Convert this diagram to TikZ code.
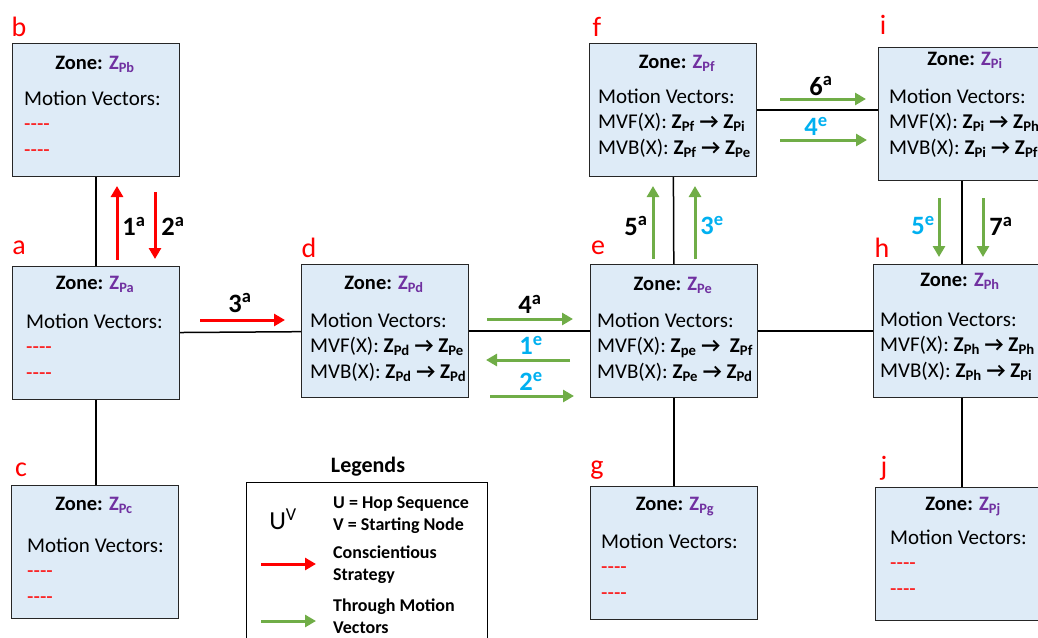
\documentclass[tikz,border=0pt]{standalone}
\usepackage{fontspec}
\setmainfont{Carlito}
\usetikzlibrary{arrows.meta}

\definecolor{boxblue}{HTML}{DEEBF7}
\definecolor{zpurple}{HTML}{7030A0}
\definecolor{mvgreen}{HTML}{70AD47}
\definecolor{hopcyan}{HTML}{00B0F0}

\newcommand{\zt}[1]{\textbf{Zone: \textcolor{zpurple}{Z\textsubscript{#1}}}}
\newcommand{\mvl}[3]{#1(X): \textbf{Z\textsubscript{#2} → Z\textsubscript{#3}}}
\newcommand{\dashes}{\textcolor{red}{-\kern0pt-\kern0pt-\kern0pt-}}
\newcommand{\mvlines}[1]{\begin{tabular}[t]{@{}l@{}}Motion Vectors:\\#1\end{tabular}}
\newcommand{\twolines}[2]{\begin{tabular}[t]{@{}l@{}}#1\\#2\end{tabular}}

\begin{document}
\begin{tikzpicture}[x=1pt, y=-1pt,
	zone/.style={draw=black!85, line width=1.2pt, fill=boxblue, minimum width=167pt, minimum height=133pt, anchor=north west, inner sep=0pt},
	ztitle/.style={anchor=base, inner sep=0pt, font=\fontsize{20.5}{24}\selectfont},
	mvtext/.style={anchor=base west, inner sep=0pt, font=\fontsize{21}{25.5}\selectfont},
	letter/.style={text=red, inner sep=0pt, font=\fontsize{28}{32}\selectfont},
	hop/.style={inner sep=0pt, font=\fontsize{26.5}{30}\selectfont\bfseries},
	link/.style={line width=1.5pt},
	redhop/.style={line width=3pt, red, -{Triangle[length=11pt, width=12pt]}},
	greenhop/.style={line width=3pt, mvgreen, -{Triangle[length=11pt, width=12pt]}},
	legtext/.style={anchor=base west, inner sep=0pt, font=\fontsize{18}{22}\selectfont\bfseries}]
	\useasboundingbox (0,0) rectangle (1038,637);
	\clip (0,0) rectangle (1038,637);
	
	% zones
	\node[zone] (b) at (12,43) {};
	\node[zone] (a) at (12,266) {};
	\node[zone] (c) at (11,485) {};
	\node[zone] (d) at (301,264) {};
	\node[zone] (e) at (590,264) {};
	\node[zone] (f) at (589,43) {};
	\node[zone] (g) at (590,486) {};
	\node[zone] (h) at (873,264) {};
	\node[zone] (i) at (878,47) {};
	\node[zone] (j) at (875,487) {};
	
	% links
	\draw[link] (b) -- (a);
	\draw[link] (a) -- (a |- c.north);
	\draw[link] (a) -- (d);
	\draw[link] (d) -- (e);
	\draw[link] (e) -- (h);
	\draw[link] (e) -- (f);
	\draw[link] (e) -- (g);
	\draw[link] (f) -- (f -| i.west);
	\draw[link] (i) -- (i |- h.north);
	\draw[link] (i |- h.south) -- (i |- j.north);
	
	% zone texts
	\node[ztitle] (b-t) at (95,69) {\zt{Pb}};
	\node[mvtext] (b-mv) at (24,105) {\mvlines{\dashes\\\dashes}};
	\node[ztitle] (a-t) at (95,289) {\zt{Pa}};
	\node[mvtext] (a-mv) at (26,328) {\mvlines{\dashes\\\dashes}};
	\node[ztitle] (c-t) at (94,510) {\zt{Pc}};
	\node[mvtext] (c-mv) at (27,552) {\mvlines{\dashes\\\dashes}};
	\node[ztitle] (d-t) at (384,289) {\zt{Pd}};
	\node[mvtext] (d-mv) at (310,327) {\mvlines{\mvl{MVF}{Pd}{Pe}\\\mvl{MVB}{Pd}{Pd}}};
	\node[ztitle] (e-t) at (673,290) {\zt{Pe}};
	\node[mvtext] (e-mv) at (597,327) {\mvlines{MVF(X): \textbf{Z\textsubscript{pe} →\ \ Z\textsubscript{Pf}}\\\mvl{MVB}{Pe}{Pd}}};
	\node[ztitle] (f-t) at (677,68) {\zt{Pf}};
	\node[mvtext] (f-mv) at (598,103) {\mvlines{\mvl{MVF}{Pf}{Pi}\\\mvl{MVB}{Pf}{Pe}}};
	\node[ztitle] (i-t) at (965,65) {\zt{Pi}};
	\node[mvtext] (i-mv) at (889,103) {\mvlines{\mvl{MVF}{Pi}{Ph}\\\mvl{MVB}{Pi}{Pf}}};
	\node[ztitle] (h-t) at (960,286) {\zt{Ph}};
	\node[mvtext] (h-mv) at (880,326) {\mvlines{\mvl{MVF}{Ph}{Ph}\\\mvl{MVB}{Ph}{Pi}}};
	\node[ztitle] (g-t) at (675,510) {\zt{Pg}};
	\node[mvtext] (g-mv) at (601,548) {\mvlines{\dashes\\\dashes}};
	\node[ztitle] (j-t) at (963,510) {\zt{Pj}};
	\node[mvtext] (j-mv) at (890,544) {\mvlines{\dashes\\\dashes}};
	
	% zone letters
	\node[letter] (b-l) at (19,27) {b};
	\node[letter] (a-l) at (19,248) {a};
	\node[letter] (c-l) at (21,470) {c};
	\node[letter] (d-l) at (309,248) {d};
	\node[letter] (e-l) at (598,248) {e};
	\node[letter] (f-l) at (597,27) {f};
	\node[letter] (g-l) at (597,470) {g};
	\node[letter] (i-l) at (883,25) {i};
	\node[letter] (h-l) at (882,248) {h};
	\node[letter] (j-l) at (884,468) {j};
	
	% hops
	\draw[redhop] (117,260) -- (117,186);
	\node[hop] (hop1a) at (134,226) {1\textsuperscript{a}};
	\draw[redhop] (155,192) -- (155,259);
	\node[hop] (hop2a) at (173,226) {2\textsuperscript{a}};
	\draw[redhop] (200,320) -- (285,320);
	\node[hop] (hop3a) at (240,303) {3\textsuperscript{a}};
	\draw[greenhop] (487,319) -- (573,319);
	\node[hop] (hop4a) at (530,304) {4\textsuperscript{a}};
	\draw[greenhop] (570,360) -- (486,360);
	\node[hop, text=hopcyan] (hop1e) at (531,345) {1\textsuperscript{e}};
	\draw[greenhop] (490,396) -- (574,396);
	\node[hop, text=hopcyan] (hop2e) at (531,381) {2\textsuperscript{e}};
	\draw[greenhop] (653,259) -- (653,186);
	\node[hop] (hop5a) at (636,226) {5\textsuperscript{a}};
	\draw[greenhop] (695,259) -- (695,186);
	\node[hop, text=hopcyan] (hop3e) at (712,226) {3\textsuperscript{e}};
	\draw[greenhop] (780,99) -- (866,99);
	\node[hop] (hop6a) at (821,86) {6\textsuperscript{a}};
	\draw[greenhop] (780,140) -- (867,140);
	\node[hop, text=hopcyan] (hop4e) at (816,126) {4\textsuperscript{e}};
	\draw[greenhop] (939,198) -- (939,257);
	\node[hop, text=hopcyan] (hop5e) at (923,226) {5\textsuperscript{e}};
	\draw[greenhop] (983,198) -- (983,257);
	\node[hop] (hop7a) at (1001,226) {7\textsuperscript{a}};
	
	% legend
	\node[font=\fontsize{22}{26}\selectfont\bfseries] (leg-t) at (368,467) {Legends};
	\node[draw, line width=1.2pt, minimum width=241pt, minimum height=175pt, anchor=north west, inner sep=0pt] (leg) at (246,482) {};
	\node[font=\fontsize{26}{30}\selectfont] (leg-uv) at (283,519) {U\textsuperscript{V}};
	\node[legtext] (leg-hop) at (333,508) {\twolines{U = Hop Sequence}{V = Starting Node}};
	\draw[redhop] (261,564) -- (316,564);
	\node[legtext] (leg-red) at (333,558) {\twolines{Conscientious}{Strategy}};
	\draw[greenhop] (261,621) -- (316,621);
	\node[legtext] (leg-green) at (333,611) {\twolines{Through Motion}{Vectors}};
\end{tikzpicture}
\end{document}
